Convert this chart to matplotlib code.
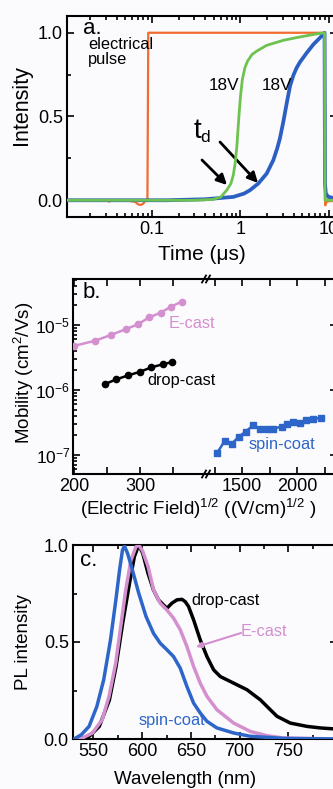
import numpy as np
import matplotlib
matplotlib.use('Agg')
import matplotlib.pyplot as plt
from matplotlib.ticker import FixedLocator, LogLocator, NullFormatter, FixedFormatter
from matplotlib.lines import Line2D

plt.rcParams['font.family'] = ['Liberation Sans', 'DejaVu Sans']
plt.rcParams['mathtext.fontset'] = 'custom'
plt.rcParams['mathtext.rm'] = 'Liberation Sans'
plt.rcParams['mathtext.it'] = 'Liberation Sans:italic'
plt.rcParams['mathtext.bf'] = 'Liberation Sans:bold'

# ---------------- data: panel a (transient EL) ----------------
t_pulse = [0.011, 0.03, 0.033, 0.036, 0.05, 0.065, 0.07, 0.075, 0.08, 0.085, 0.089, 0.091, 0.1, 1.0, 9.0, 9.05, 9.3, 10.0, 12.3]
I_pulse = [0.0, 0.0, -0.008, 0.0, 0.0, -0.01, -0.025, -0.028, -0.02, 0.0, 0.0, 1.0, 1.0, 1.0, 1.0, -0.03, -0.012, -0.005, -0.005]

t_green = [0.011, 0.3, 0.49, 0.6, 0.70, 0.78, 0.83, 0.87, 0.91, 0.96, 1.0, 1.05, 1.12, 1.2, 1.35, 1.52,
           1.98, 3.05, 4.7, 7.26, 8.9, 9.0, 9.2, 10.0, 12.3]
I_green = [0.0, 0.0, 0.005, 0.02, 0.06, 0.10, 0.15, 0.22, 0.32, 0.50, 0.62, 0.72, 0.79, 0.83, 0.87, 0.89,
           0.925, 0.955, 0.975, 0.993, 1.0, 0.0, 0.0, 0.0, 0.0]

t_blue = [0.011, 0.147, 0.4, 0.83, 1.1, 1.28, 1.59, 1.98, 2.35, 2.6, 2.79, 3.05, 3.33, 3.62, 3.95, 4.3, 4.7,
          5.6, 6.65, 7.9, 8.9, 9.0, 9.2, 9.8, 12.3]
I_blue = [0.0, 0.0, 0.006, 0.02, 0.04, 0.06, 0.10, 0.16, 0.24, 0.31, 0.37, 0.47, 0.58, 0.68, 0.745, 0.79, 0.825,
          0.88, 0.93, 0.97, 1.0, 0.10, 0.04, 0.02, 0.01]

# ---------------- data: panel b (mobility) ----------------
field_ecast = [199, 232, 255, 278, 296, 314, 331, 347, 363]
mob_ecast = [4.75e-6, 5.74e-6, 7.0e-6, 8.6e-6, 1.02e-5, 1.31e-5, 1.55e-5, 1.91e-5, 2.29e-5]

field_drop = [247, 264, 282, 300, 317, 334, 349]
mob_drop = [1.24e-6, 1.46e-6, 1.68e-6, 1.91e-6, 2.23e-6, 2.48e-6, 2.70e-6]

field_spin = [1270, 1342, 1405, 1467, 1532, 1602, 1662, 1723, 1782, 1858, 1903, 1962, 2023, 2083, 2142, 2218]
mob_spin = [1.06e-7, 1.66e-7, 1.48e-7, 1.91e-7, 2.29e-7, 2.90e-7, 2.48e-7, 2.54e-7, 2.54e-7, 2.73e-7,
            3.0e-7, 3.26e-7, 3.14e-7, 3.45e-7, 3.62e-7, 3.71e-7]

# ---------------- data: panel c (PL spectra) ----------------
wl_spin = [530.0, 537.5, 545.5, 553.5, 560.5, 567.5, 573.0, 576.8, 579.8, 581.8, 585.0, 589.0, 596.5, 604.0,
           611.6, 618.5, 625.4, 632.2, 639.1, 645.9, 652.8, 659.6, 666.5, 676.7, 693.9, 711.0, 745.3, 800.0]
pl_spin = [0.0, 0.022, 0.065, 0.168, 0.305, 0.511, 0.717, 0.871, 0.974, 0.995, 0.957, 0.889, 0.751, 0.631,
           0.545, 0.494, 0.46, 0.425, 0.365, 0.271, 0.185, 0.134, 0.091, 0.057, 0.031, 0.014, 0.003, 0.0]

wl_ecast = [532.0, 538.5, 549.0, 559.0, 566.0, 572.8, 578.0, 583.2, 588.4, 593.5, 596.5, 600.4, 606.0, 611.6,
            618.5, 625.4, 632.2, 639.1, 645.9, 652.8, 659.6, 666.5, 676.7, 693.9, 711.0, 728.1, 745.3, 800.0]
pl_ecast = [0.0, 0.005, 0.031, 0.10, 0.22, 0.39, 0.58, 0.77, 0.92, 0.99, 1.0, 0.97, 0.89, 0.77,
            0.70, 0.665, 0.623, 0.563, 0.477, 0.374, 0.288, 0.22, 0.151, 0.082, 0.039, 0.017, 0.005, 0.0]

wl_drop = [535.5, 545.8, 556.0, 566.3, 573.2, 580.0, 586.9, 592.0, 596.5, 600.6, 606.0, 611.6, 616.8, 621.9,
           625.4, 630.5, 635.6, 640.8, 644.2, 647.6, 652.8, 659.6, 666.5, 673.3, 680.2, 687.0, 693.9, 700.7,
           707.6, 714.4, 721.3, 728.1, 738.4, 752.1, 769.2, 782.9, 800.0]
pl_drop = [0.0, 0.014, 0.065, 0.20, 0.374, 0.597, 0.80, 0.94, 1.0, 0.957, 0.854, 0.768, 0.717, 0.691,
           0.674, 0.70, 0.717, 0.72, 0.708, 0.683, 0.614, 0.511, 0.425, 0.357, 0.322, 0.305, 0.288, 0.271,
           0.254, 0.228, 0.202, 0.168, 0.117, 0.082, 0.065, 0.057, 0.051]

# ---------------- colours ----------------
c_orange = '#f26b2f'
c_green = '#6ec24f'
c_blue = '#2b5fc4'
c_pink = '#d48fcf'
c_blue2 = '#2d66c8'
BG = '#fbfbfd'

W, H = 333, 789
fig = plt.figure(figsize=(W / 100, H / 100), dpi=100, facecolor=BG)


def box(l, t, r, b):
    return [l / W, 1 - b / H, (r - l) / W, (b - t) / H]


def P(x, y):
    return (x / W, 1 - y / H)


def style(ax, right=True):
    ax.set_facecolor(BG)
    for s in ax.spines.values():
        s.set_linewidth(1.5)
    ax.tick_params(which='both', direction='in', top=True, right=right, labelsize=13, width=1.2, pad=3)
    ax.tick_params(which='major', length=5)
    ax.tick_params(which='minor', length=3)


# ================= panel a =================
axa = fig.add_axes(box(67, 16, 337, 217))
style(axa)
axa.plot(t_pulse, I_pulse, color=c_orange, lw=1.6, zorder=2)
axa.plot(t_blue, I_blue, color=c_blue, lw=2.7, zorder=3, solid_joinstyle='round')
axa.plot(t_green, I_green, color=c_green, lw=2.0, zorder=4, solid_joinstyle='round')
axa.set_xscale('log')
axa.set_xlim(0.011, 12.3)
axa.set_ylim(-0.1, 1.1)
axa.xaxis.set_major_locator(FixedLocator([0.1, 1, 10]))
axa.xaxis.set_major_formatter(FixedFormatter(['0.1', '1', '10']))
axa.xaxis.set_minor_locator(LogLocator(base=10, subs=np.arange(2, 10), numticks=20))
axa.xaxis.set_minor_formatter(NullFormatter())
axa.yaxis.set_major_locator(FixedLocator([0.0, 0.5, 1.0]))
axa.yaxis.set_major_formatter(FixedFormatter(['0.0', '0.5', '1.0']))
axa.yaxis.set_minor_locator(FixedLocator([0.25, 0.75]))

fig.text(*P(22, 105), 'Intensity', rotation=90, ha='center', va='center', fontsize=15.5)
fig.text(*P(202, 255), 'Time (μs)', ha='center', va='center', fontsize=15)
fig.text(*P(92, 29), 'a.', ha='center', va='center', fontsize=16)
fig.text(*P(88, 52), 'electrical\npulse', ha='left', va='center', fontsize=11.8, linespacing=1.0)
fig.text(*P(224, 86), '18V', ha='center', va='center', fontsize=12.3)
fig.text(*P(277, 86), '18V', ha='center', va='center', fontsize=12.3)
fig.text(*P(197, 131), 't', ha='center', va='center', fontsize=20)
fig.text(*P(205, 137), 'd', ha='center', va='center', fontsize=12.5)
arrow_kw = dict(arrowstyle='-|>', lw=2.0, color='k', mutation_scale=15, shrinkA=0, shrinkB=0)
axa.annotate('', xy=P(227, 185), xytext=P(202, 160), xycoords='figure fraction',
             textcoords='figure fraction', arrowprops=arrow_kw)
axa.annotate('', xy=P(258, 183), xytext=P(220, 142), xycoords='figure fraction',
             textcoords='figure fraction', arrowprops=arrow_kw)

# ================= panel b =================
axb1 = fig.add_axes(box(73, 279, 206, 474))
axb2 = fig.add_axes(box(206, 279, 337, 474), sharey=axb1)
style(axb1, right=False)
style(axb2)
axb1.spines['right'].set_visible(False)
axb2.spines['left'].set_visible(False)
axb2.tick_params(which='both', left=False, labelleft=False)
axb1.tick_params(axis='y', labelsize=12.5, pad=2)

axb1.plot(field_ecast, mob_ecast, '-o', color=c_pink, lw=1.8, ms=4.5, zorder=3)
axb1.plot(field_drop, mob_drop, '-o', color='k', lw=1.8, ms=4.5, zorder=3)
axb2.plot(field_spin, mob_spin, '-s', color=c_blue2, lw=1.8, ms=4, zorder=3)

axb1.set_yscale('log')
axb1.set_ylim(5.1e-8, 5.1e-5)
axb1.set_xlim(198, 400)
axb2.set_xlim(1171, 2360)
axb1.xaxis.set_major_locator(FixedLocator([200, 300]))
axb1.xaxis.set_minor_locator(FixedLocator([250, 350]))
axb2.xaxis.set_major_locator(FixedLocator([1500, 2000]))
axb2.xaxis.set_minor_locator(FixedLocator([1250, 1750, 2250]))
axb1.yaxis.set_major_locator(FixedLocator([1e-7, 1e-6, 1e-5]))
axb1.yaxis.set_major_formatter(FixedFormatter([r'$\mathregular{10^{-7}}$', r'$\mathregular{10^{-6}}$',
                                               r'$\mathregular{10^{-5}}$']))
axb1.yaxis.set_minor_locator(LogLocator(base=10, subs=np.arange(2, 10), numticks=20))
axb1.yaxis.set_minor_formatter(NullFormatter())
for ax in (axb1, axb2):
    ax.tick_params(axis='x', which='minor', length=5)

# break marks
for yb in (279, 474):
    for dx in (-3, 1):
        fig.add_artist(Line2D([(205 + dx) / W, (209 + dx) / W], [1 - (yb + 3.5) / H, 1 - (yb - 3.5) / H],
                              color='k', lw=1.3, transform=fig.transFigure))

fig.text(*P(24, 373), r'Mobility (cm$\mathregular{^2}$/Vs)', rotation=90, ha='center', va='center', fontsize=13.5)
fig.text(*P(198, 509), r'(Electric Field)$\mathregular{^{1/2}}$ ((V/cm)$\mathregular{^{1/2}}$ )',
         ha='center', va='center', fontsize=13.5)
fig.text(*P(92, 293), 'b.', ha='center', va='center', fontsize=16)
fig.text(*P(192, 323), 'E-cast', color=c_pink, ha='center', va='center', fontsize=11.8)
fig.text(*P(181, 381), 'drop-cast', color='k', ha='center', va='center', fontsize=11.8)
fig.text(*P(282, 445), 'spin-coat', color=c_blue2, ha='center', va='center', fontsize=11.8)

# ================= panel c =================
axc = fig.add_axes(box(73, 545, 337, 739))
style(axc)
axc.plot(wl_drop, pl_drop, color='k', lw=2.5, zorder=2)
axc.plot(wl_ecast, pl_ecast, color=c_pink, lw=2.5, zorder=3)
axc.plot(wl_spin, pl_spin, color=c_blue2, lw=2.5, zorder=4)
axc.set_xlim(529, 800)
axc.set_ylim(0, 1.0)
axc.xaxis.set_major_locator(FixedLocator([550, 600, 650, 700, 750]))
axc.xaxis.set_minor_locator(FixedLocator([575, 625, 675, 725, 775]))
axc.yaxis.set_major_locator(FixedLocator([0.0, 0.5, 1.0]))
axc.yaxis.set_major_formatter(FixedFormatter(['0.0', '0.5', '1.0']))
axc.yaxis.set_minor_locator(FixedLocator([0.25, 0.75]))

fig.text(*P(24, 642), 'PL intensity', rotation=90, ha='center', va='center', fontsize=13.5)
fig.text(*P(185, 780), 'Wavelength (nm)', ha='center', va='center', fontsize=13.5)
fig.text(*P(89, 561), 'c.', ha='center', va='center', fontsize=16)
fig.text(*P(226, 600), 'drop-cast', color='k', ha='center', va='center', fontsize=11.8)
fig.text(*P(264, 632), 'E-cast', color=c_pink, ha='center', va='center', fontsize=11.8)
fig.text(*P(172, 721), 'spin-coat', color=c_blue2, ha='center', va='center', fontsize=11.8)
axc.annotate('', xy=P(196, 647), xytext=P(241, 633), xycoords='figure fraction',
             textcoords='figure fraction',
             arrowprops=dict(arrowstyle='-|>', lw=1.5, color=c_pink, mutation_scale=8, shrinkA=0, shrinkB=0))

fig.savefig('out.png', dpi=100, facecolor=BG)
